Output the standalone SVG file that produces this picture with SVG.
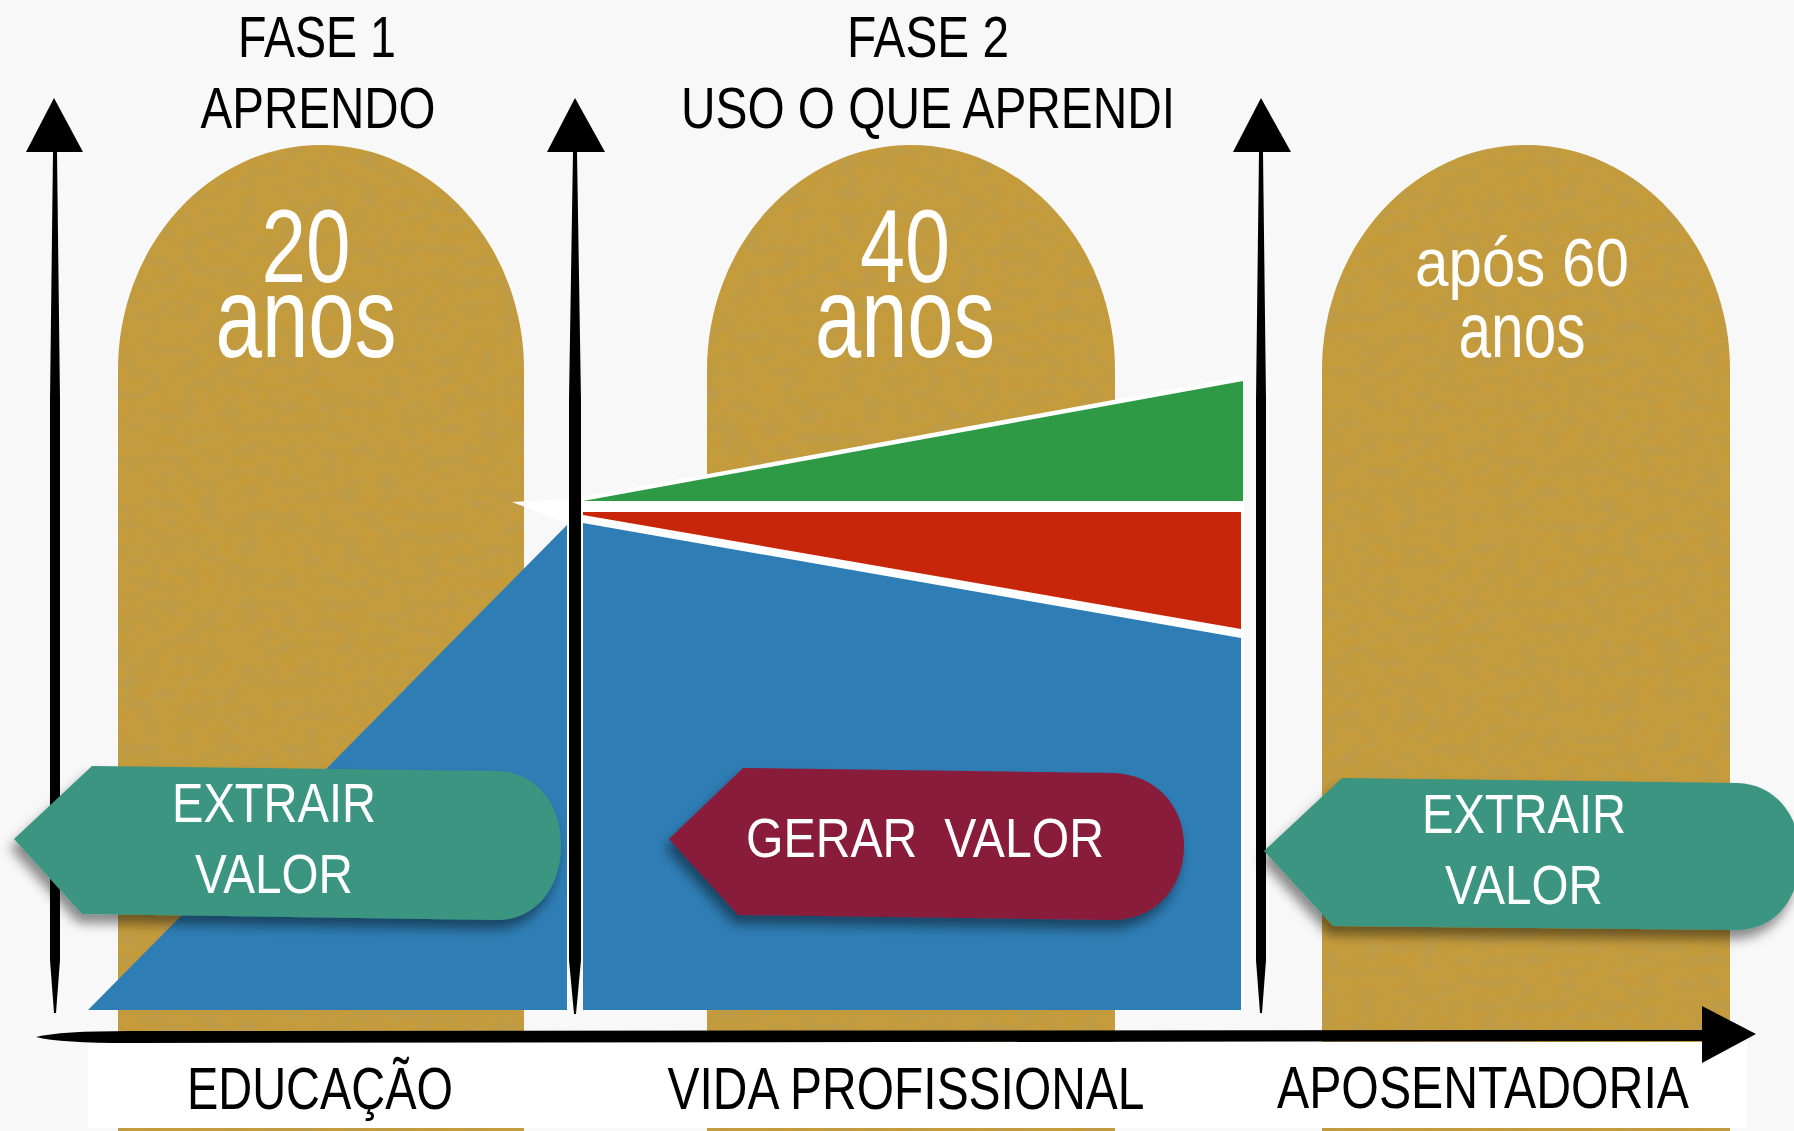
<svg xmlns="http://www.w3.org/2000/svg" width="1794" height="1131" viewBox="0 0 1794 1131">
  <defs>
    <style>
      .t { font-family: "Liberation Sans Narrow", "Liberation Sans", Arial, sans-serif; }
      .hdr { font-size: 57px; fill: #000; }
      .lbl { font-size: 59px; fill: #000; }
      .wt { fill: #fff; }
      .tomb { fill: #c59b3a; }
      .axis { fill: #000; }
    </style>
    <filter id="grain" x="0" y="0" width="100%" height="100%">
      <feTurbulence type="fractalNoise" baseFrequency="0.05 0.09" numOctaves="4" seed="7" result="n"/>
      <feColorMatrix in="n" type="matrix" values="0 0 0 0 0.45  0 0 0 0 0.33  0 0 0 0 0.1  0 0 0 1.0 -0.38" result="spots"/>
      <feComposite in="spots" in2="SourceGraphic" operator="in" result="s2"/>
      <feMerge><feMergeNode in="SourceGraphic"/><feMergeNode in="s2"/></feMerge>
    </filter>
    <filter id="shadow" x="-10%" y="-20%" width="120%" height="150%">
      <feDropShadow dx="-4" dy="9" stdDeviation="6" flood-color="#000" flood-opacity="0.45"/>
    </filter>
  </defs>

  <rect x="0" y="0" width="1794" height="1131" fill="#f8f8f8"/>

  <g id="tombs">
    <path id="tomb-1" class="tomb" filter="url(#grain)" d="M118,1131 V370 A203,225 0 0 1 524,370 V1131 Z"/>
    <path id="tomb-2" class="tomb" filter="url(#grain)" d="M707,1131 V370 A204,225 0 0 1 1115,370 V1131 Z"/>
    <path id="tomb-3" class="tomb" filter="url(#grain)" d="M1322,1131 V370 A204,225 0 0 1 1730,370 V1131 Z"/>
  </g>

  <rect id="label-band" x="88" y="1042" width="1659" height="86" fill="#ffffff"/>

  <g id="chart">
    <polygon id="white-back" points="582,497 1244,376 1244,1010 582,1010" fill="#ffffff"/>
    <polygon id="blue-left" points="88,1010 567,525 567,1010" fill="#2e7db4"/>
    <polygon id="blue-right" points="583,523 1241,638 1241,1010 583,1010" fill="#2e7db4"/>
    <polygon id="red" points="583,512 1241,512 1241,629 583,515" fill="#c8260a"/>
    <polygon id="green" points="583,501 1243,381 1243,501" fill="#2e9a45"/>
    <polygon id="white-wedge" points="512,502 569,499 569,524" fill="#ffffff"/>
  </g>

  <g id="connectors">
    <path class="axis" d="M53,152 L57,152 L60,400 L60,960 L56,1013 L54,1013 L50,960 L50,400 Z"/>
    <polygon class="axis" points="54,98 83,152 26,152"/>
    <path class="axis" d="M573,152 L577,152 L581,400 L581,960 L576,1014 L574,1014 L569,960 L569,400 Z"/>
    <polygon class="axis" points="575,98 605,152 547,152"/>
    <path class="axis" d="M1259,152 L1263,152 L1266,400 L1266,960 L1262,1013 L1260,1013 L1256,960 L1256,400 Z"/>
    <polygon class="axis" points="1261,98 1291,152 1233,152"/>
    <path class="axis" d="M36,1037 Q60,1031 130,1031 L1706,1030 L1706,1041 L130,1043 Q60,1043 36,1037 Z"/>
    <polygon class="axis" points="1756,1034 1702,1006 1702,1063"/>
  </g>

  <g id="headers" class="t">
    <text class="hdr" x="317" y="57" text-anchor="middle" textLength="158" lengthAdjust="spacingAndGlyphs">FASE 1</text>
    <text class="hdr" x="318" y="128" text-anchor="middle" textLength="235" lengthAdjust="spacingAndGlyphs">APRENDO</text>
    <text class="hdr" x="928" y="57" text-anchor="middle" textLength="162" lengthAdjust="spacingAndGlyphs">FASE 2</text>
    <text class="hdr" x="928" y="128" text-anchor="middle" textLength="494" lengthAdjust="spacingAndGlyphs">USO O QUE APRENDI</text>
  </g>

  <g id="ages" class="t wt">
    <text id="age-20" text-anchor="middle"><tspan x="306" y="282" font-size="104" textLength="89" lengthAdjust="spacingAndGlyphs">20</tspan><tspan x="306" y="357" font-size="115" textLength="181" lengthAdjust="spacingAndGlyphs">anos</tspan></text>
    <text id="age-40" text-anchor="middle"><tspan x="905" y="282" font-size="104" textLength="90" lengthAdjust="spacingAndGlyphs">40</tspan><tspan x="905" y="357" font-size="115" textLength="180" lengthAdjust="spacingAndGlyphs">anos</tspan></text>
    <text id="age-60" text-anchor="middle"><tspan x="1522" y="286" font-size="69" textLength="214" lengthAdjust="spacingAndGlyphs">após 60</tspan><tspan x="1522" y="357" font-size="78" textLength="127" lengthAdjust="spacingAndGlyphs">anos</tspan></text>
  </g>

  <g id="badge-extrair-1" filter="url(#shadow)">
    <path d="M14,839 L92,766 L497,771 C537,772 561,805 561,845 C561,886 537,920 497,920 L82,914 Z" fill="#3a9580"/>
  </g>
  <g id="badge-gerar" filter="url(#shadow)">
    <path d="M669,839 L743,768 L1112,773 C1155,774 1184,805 1184,846 C1184,888 1155,920 1112,920 L738,915 Z" fill="#8a1b3b"/>
  </g>
  <g id="badge-extrair-2" filter="url(#shadow)">
    <path d="M1264,851 L1342,778 L1737,783 C1775,784 1800,815 1800,856 C1800,899 1775,930 1737,930 L1333,926 Z" fill="#3a9580"/>
  </g>

  <g id="badge-texts" class="t wt" font-size="56">
    <text x="274" y="822" text-anchor="middle" textLength="204" lengthAdjust="spacingAndGlyphs">EXTRAIR</text>
    <text x="274" y="893" text-anchor="middle" textLength="158" lengthAdjust="spacingAndGlyphs">VALOR</text>
    <text x="925" y="857" text-anchor="middle" textLength="358" lengthAdjust="spacingAndGlyphs" xml:space="preserve">GERAR  VALOR</text>
    <text x="1524" y="833" text-anchor="middle" textLength="204" lengthAdjust="spacingAndGlyphs">EXTRAIR</text>
    <text x="1524" y="904" text-anchor="middle" textLength="158" lengthAdjust="spacingAndGlyphs">VALOR</text>
  </g>

  <g id="phase-labels" class="t">
    <text class="lbl" x="320" y="1109" text-anchor="middle" textLength="266" lengthAdjust="spacingAndGlyphs">EDUCAÇÃO</text>
    <text class="lbl" x="906" y="1109" text-anchor="middle" textLength="477" lengthAdjust="spacingAndGlyphs">VIDA PROFISSIONAL</text>
    <text class="lbl" x="1483" y="1108" text-anchor="middle" textLength="412" lengthAdjust="spacingAndGlyphs">APOSENTADORIA</text>
  </g>
</svg>
